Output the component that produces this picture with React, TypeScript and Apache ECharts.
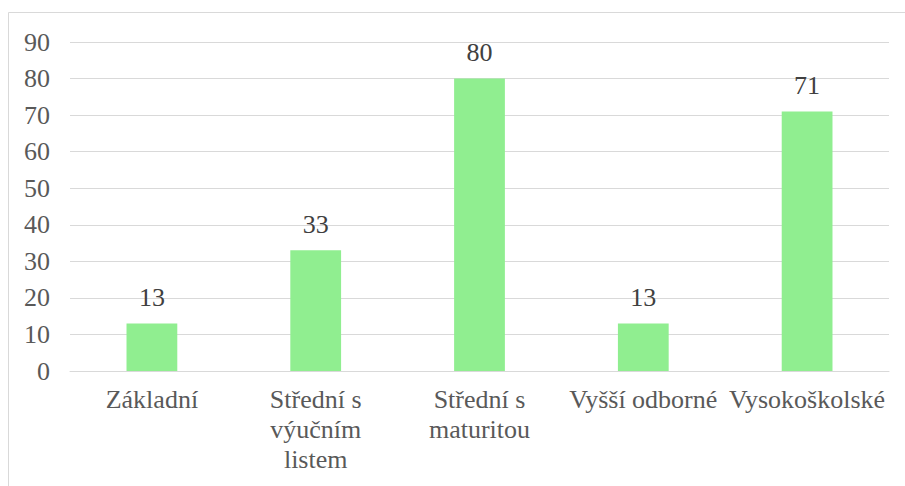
import React, { useEffect, useRef } from "react";
import * as echarts from "echarts";

const categories = [
  "Základní",
  "Střední s výučním listem",
  "Střední s maturitou",
  "Vyšší odborné",
  "Vysokoškolské",
];
const categoryLabels = [
  "Základní",
  "Střední s\nvýučním\nlistem",
  "Střední s\nmaturitou",
  "Vyšší odborné",
  "Vysokoškolské",
];
const values = [13, 33, 80, 13, 71];
const yTicks = { min: 0, max: 90, interval: 10 };

export default function App() {
  const ref = useRef<HTMLDivElement>(null);
  useEffect(() => {
    if (!ref.current) return;
    const chart = echarts.init(ref.current, undefined, { renderer: "svg" });
    const font = "Liberation Serif, Times New Roman, serif";
    chart.setOption({
      animation: false,
      backgroundColor: "#ffffff",
      textStyle: { fontFamily: font },
      graphic: [
        {
          type: "rect",
          shape: { x: 8.5, y: 12.5, width: 1000, height: 1000 },
          style: { fill: "none", stroke: "#d9d9d9", lineWidth: 1 },
          silent: true,
        },
      ],
      grid: { left: 70, right: 16, top: 42, bottom: 115 },
      xAxis: {
        type: "category",
        data: categories,
        axisLine: { show: true, lineStyle: { color: "#d9d9d9", width: 1 } },
        axisTick: { show: false },
        axisLabel: {
          interval: 0,
          margin: 13,
          color: "#595959",
          fontFamily: font,
          fontSize: 26,
          lineHeight: 30,
          formatter: (_v: string, i: number) => categoryLabels[i],
        },
      },
      yAxis: {
        type: "value",
        min: yTicks.min,
        max: yTicks.max,
        interval: yTicks.interval,
        axisLine: { show: false },
        axisTick: { show: false },
        splitLine: { lineStyle: { color: "#d9d9d9", width: 1 } },
        axisLabel: {
          margin: 20,
          color: "#595959",
          fontFamily: font,
          fontSize: 26,
        },
      },
      series: [
        {
          type: "bar",
          data: values,
          barWidth: "31%",
          itemStyle: { color: "#90ee90" },
          label: {
            show: true,
            position: "top",
            distance: 13,
            color: "#404040",
            fontFamily: font,
            fontSize: 26,
          },
        },
      ],
    });
    return () => chart.dispose();
  }, []);
  return (
    <div
      ref={ref}
      style={{ position: "absolute", left: 0, top: 0, width: 905, height: 486 }}
    />
  );
}
